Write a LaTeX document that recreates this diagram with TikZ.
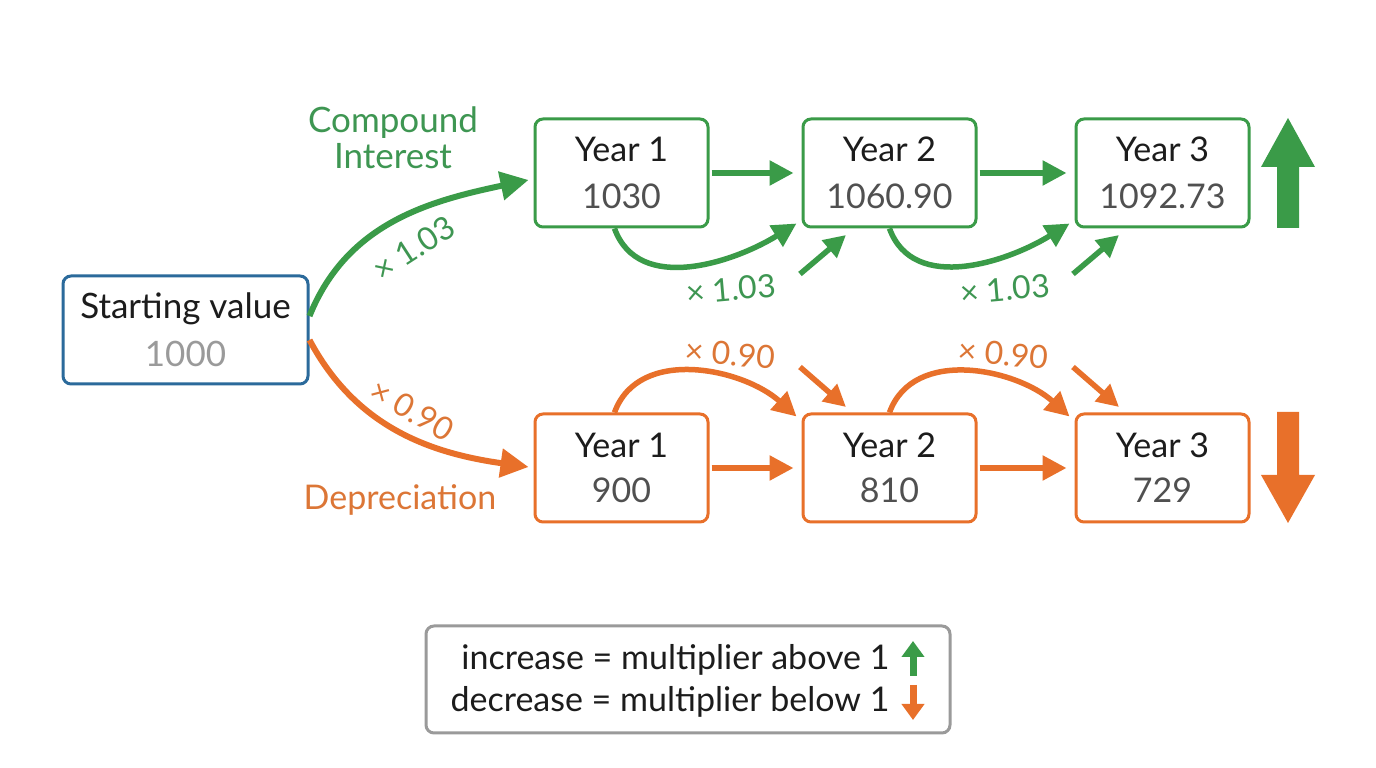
\documentclass[tikz,border=0pt]{standalone}
\usepackage{fontspec}
\setmainfont{Lato}
\usetikzlibrary{arrows.meta}
\definecolor{cgreen}{HTML}{3A9B48}
\definecolor{cgreentxt}{HTML}{3E9652}
\definecolor{corange}{HTML}{E8702A}
\definecolor{corangetxt}{HTML}{DC7636}
\definecolor{cblue}{HTML}{2B6A9B}
\definecolor{cdark}{HTML}{1C1C1C}
\definecolor{cnum}{HTML}{505050}
\definecolor{clight}{HTML}{9A9A9A}
\definecolor{cframe}{HTML}{9A9A9A}
\begin{document}
\begin{tikzpicture}[x=1pt,y=1pt,
  yearbox/.style={draw, line width=3pt, rounded corners=8pt, minimum width=173pt,
    minimum height=108pt, fill=white, align=center, text=cdark, inner sep=4pt,
    font=\fontsize{34}{47}\selectfont},
  gbox/.style={yearbox, draw=cgreen},
  obox/.style={yearbox, draw=corange},
  bigarc/.style={line width=6pt, -{Triangle[length=28pt,width=28pt]}},
  subarc/.style={line width=5.5pt, -{Triangle[length=24pt,width=24pt]}},
  lbl/.style={font=\fontsize{32}{34}\selectfont},
  title/.style={font=\fontsize{35}{36}\selectfont, align=center}
]
\useasboundingbox (0,0) rectangle (1376,768);
\fill[white] (0,0) rectangle (1376,768);

% boxes
\node[yearbox, draw=cblue, minimum width=245pt, font=\fontsize{35}{48}\selectfont] (start) at (185.5,438)
  {Starting value\\{\color{clight}1000}};
\node[gbox] (g1) at (621.5,595) {Year 1\\{\color{cnum}1030}};
\node[gbox] (g2) at (889.5,595) {Year 2\\{\color{cnum}1060.90}};
\node[gbox] (g3) at (1162.5,595) {Year 3\\{\color{cnum}1092.73}};
\node[obox, font=\fontsize{34}{45}\selectfont] (o1) at (621.5,300) {Year 1\\{\color{cnum}900}};
\node[obox, font=\fontsize{34}{45}\selectfont] (o2) at (889.5,300) {Year 2\\{\color{cnum}810}};
\node[obox, font=\fontsize{34}{45}\selectfont] (o3) at (1162.5,300) {Year 3\\{\color{cnum}729}};

% titles
\node[title, text=cgreentxt] (ci) at (393,630) {Compound\\Interest};
\node[title, text=corangetxt, font=\fontsize{34}{36}\selectfont] (dep) at (400,268) {Depreciation};

% main arcs
\draw[bigarc, cgreen] ([yshift=14pt]start.east) to[out=68,in=192] ([shift={(-5pt,-7pt)}]g1.west);
\draw[bigarc, corange] ([yshift=-10pt]start.east) to[out=-62,in=172] ([shift={(-5pt,1pt)}]o1.west);
\node[lbl, text=cgreentxt, rotate=33] (m1) at (414,520) {\texttimes\ 1.03};
\node[lbl, text=corangetxt, rotate=-30] (m2) at (412,358) {\texttimes\ 0.90};

% straight arrows
\draw[subarc, cgreen] ([xshift=2pt]g1.east) -- ([xshift=-8pt]g2.west);
\draw[subarc, cgreen] ([xshift=2pt]g2.east) -- ([xshift=-8pt]g3.west);
\draw[subarc, corange] ([xshift=2pt]o1.east) -- ([xshift=-8pt]o2.west);
\draw[subarc, corange] ([xshift=2pt]o2.east) -- ([xshift=-8pt]o3.west);

% green sub arcs
\draw[subarc, cgreen] ([xshift=-7pt]g1.south) to[out=-70,in=212] ([shift={(-5pt,5pt)}]g2.south west);
\draw[subarc, cgreen] ([xshift=0pt]g2.south) to[out=-70,in=212] ([shift={(-5pt,5pt)}]g3.south west);
\coordinate (ga1) at (800,494);
\coordinate (gb1) at (846,533);
\coordinate (ga2) at (1073,494);
\coordinate (gb2) at (1119,533);
\draw[line width=5.5pt, cgreen, -{Triangle[length=22pt,width=22pt]}] (ga1) -- (gb1);
\draw[line width=5.5pt, cgreen, -{Triangle[length=22pt,width=22pt]}] (ga2) -- (gb2);
\node[lbl, text=cgreentxt, rotate=5] (m3) at (731,479) {\texttimes\ 1.03};
\node[lbl, text=cgreentxt, rotate=5] (m4) at (1005,479) {\texttimes\ 1.03};

% orange sub arcs
\draw[subarc, corange] ([xshift=-7pt]o1.north) to[out=70,in=138] ([shift={(-5pt,-4pt)}]o2.north west);
\draw[subarc, corange] ([xshift=0pt]o2.north) to[out=70,in=138] ([shift={(-5pt,-4pt)}]o3.north west);
\coordinate (oa1) at (800,401);
\coordinate (ob1) at (846,361);
\coordinate (oa2) at (1073,401);
\coordinate (ob2) at (1119,361);
\draw[line width=5.5pt, corange, -{Triangle[length=22pt,width=22pt]}] (oa1) -- (ob1);
\draw[line width=5.5pt, corange, -{Triangle[length=22pt,width=22pt]}] (oa2) -- (ob2);
\node[lbl, text=corangetxt, rotate=-5] (m5) at (730,414) {\texttimes\ 0.90};
\node[lbl, text=corangetxt, rotate=-5] (m6) at (1003,414) {\texttimes\ 0.90};

% big side arrows
\fill[cgreen] (1277,540) -- (1299,540) -- (1299,601) -- (1315,601) -- (1288,650) -- (1261,601) -- (1277,601) -- cycle;
\fill[corange] (1277,356) -- (1299,356) -- (1299,293) -- (1315,293) -- (1288,245) -- (1261,293) -- (1277,293) -- cycle;

% legend
\node[draw=cframe, line width=3pt, rounded corners=8pt, minimum width=524pt, minimum height=107pt] (legend) at (688,88.5) {};
\node[anchor=east, font=\fontsize{34}{36}\selectfont, text=cdark] (l1) at (893,108) {increase = multiplier above 1};
\node[anchor=east, font=\fontsize{34}{36}\selectfont, text=cdark] (l2) at (893,66) {decrease = multiplier below 1};
\coordinate (la1) at (913,92);
\coordinate (lb1) at (913,127);
\coordinate (la2) at (913,83);
\coordinate (lb2) at (913,48);
\draw[line width=7pt, cgreen, -{Triangle[length=16pt,width=22pt]}] (la1) -- (lb1);
\draw[line width=7pt, corange, -{Triangle[length=16pt,width=22pt]}] (la2) -- (lb2);
\end{tikzpicture}
\end{document}
